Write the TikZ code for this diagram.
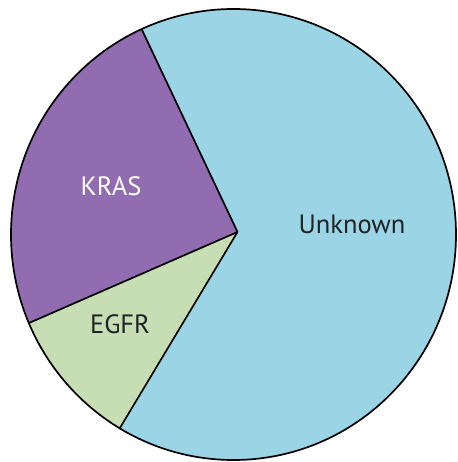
\documentclass[tikz,border=0pt]{standalone}
\usepackage{fontspec}
\usepackage{xcolor}
\usepackage{tikz}
\usetikzlibrary{calc}

\newfontfamily\labelfont{PT Sans}
\definecolor{krasPurple}{RGB}{146,108,176}
\definecolor{egfrGreen}{RGB}{199,222,180}
\definecolor{unknownBlue}{RGB}{155,212,228}
\definecolor{labelDark}{RGB}{30,35,40}

\begin{document}
\begin{tikzpicture}[x=1pt, y=-1pt, line join=round,
    pieline/.style={black, line width=1.7pt},
    slicelabel/.style={font=\labelfont\fontsize{26.5}{26.5}\selectfont, anchor=base, inner sep=0pt}]

    \useasboundingbox (0,0) rectangle (457,462);

    % =================================================================
    % 1. CÁC ĐIỂM CHÍNH
    % =================================================================
    % Tâm hình tròn và đỉnh chung của các múi
    \coordinate (O) at (233.5, 234.5);
    \coordinate (V) at (237.5, 232);

    % Giao điểm của các đường chia với vòng ngoài
    \coordinate (T) at (141.7, 29.3);
    \coordinate (L) at (28.3, 323.3);
    \coordinate (B) at (119.3, 429);

    % Kéo dài ra ngoài vòng tròn (để tô rồi cắt)
    \coordinate (T') at ($(V)!1.3!(T)$);
    \coordinate (L') at ($(V)!1.3!(L)$);
    \coordinate (B') at ($(V)!1.3!(B)$);

    % =================================================================
    % 2. TÔ MÀU CÁC MÚI
    % =================================================================
    \begin{scope}
        \clip (O) ellipse [x radius=222.5, y radius=225.5];
        \fill[unknownBlue] (O) ellipse [x radius=222.5, y radius=225.5];
        \fill[krasPurple] (V) -- (T') -- (-40,-40) -- (-40,0 |- L') -- (L') -- cycle;
        \fill[egfrGreen] (V) -- (L') -- (-40,0 |- L') -- (-40,500) -- (B') -- cycle;
    \end{scope}

    % =================================================================
    % 3. ĐƯỜNG CHIA VÀ VÒNG NGOÀI
    % =================================================================
    \draw[pieline] (V) -- (T);
    \draw[pieline] (V) -- (L);
    \draw[pieline] (V) -- (B);
    \draw[pieline] (O) ellipse [x radius=222.5, y radius=225.5];

    % =================================================================
    % 4. NHÃN
    % =================================================================
    \node[slicelabel, white] (kras) at (111, 195) {KRAS};
    \node[slicelabel, labelDark] (egfr) at (120, 333) {EGFR};
    \node[slicelabel, labelDark] (unknown) at (352, 233) {Unknown};

\end{tikzpicture}
\end{document}
